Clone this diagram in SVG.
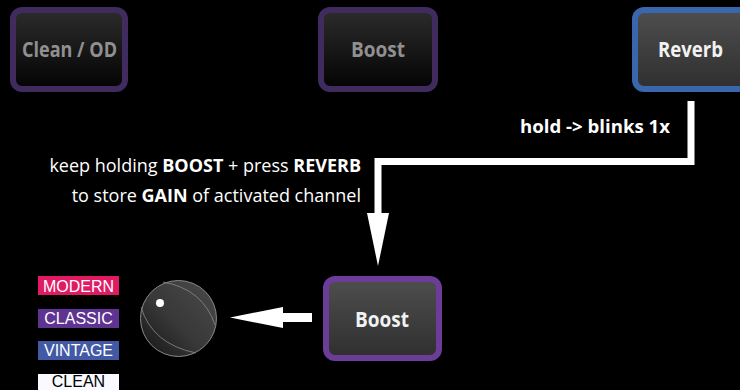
<svg xmlns="http://www.w3.org/2000/svg" width="740" height="390" viewBox="0 0 740 390">
<defs>
<linearGradient id="gDark" x1="0" y1="0" x2="0" y2="1">
<stop offset="0" stop-color="#2c2c2c"/><stop offset="1" stop-color="#030303"/>
</linearGradient>
<linearGradient id="gLit" x1="0" y1="0" x2="0" y2="1">
<stop offset="0" stop-color="#4e4e4e"/><stop offset="1" stop-color="#2f2f2f"/>
</linearGradient>
<linearGradient id="gKnob" x1="1" y1="0" x2="0" y2="1">
<stop offset="0" stop-color="#4a4a4a"/><stop offset="0.55" stop-color="#383838"/><stop offset="1" stop-color="#151515"/>
</linearGradient>
<style>
.btn{stroke-width:6}
.off{fill:url(#gDark);stroke:#3f2b5e}
.on{fill:url(#gLit)}
.bt{font-family:"Open Sans","Noto Sans",sans-serif;font-weight:bold;font-size:22px;text-anchor:middle}
.dim{fill:#909090}
.lit{fill:#f2f2f2}
.note{font-family:"Open Sans","Noto Sans",sans-serif;font-size:18px;fill:#ffffff}
.b{font-weight:bold}
.lbl{font-family:"Liberation Sans",Arial,sans-serif;font-size:16px;text-anchor:middle;fill:#ffffff}
.wire{fill:none;stroke:#ffffff;stroke-width:7;stroke-linejoin:miter}
</style>
</defs>
<rect width="740" height="390" fill="#000"/>

<g id="node-clean-od">
<rect class="btn off" x="13" y="10" width="112" height="79" rx="9"/>
<text class="bt dim" x="69.5" y="57" textLength="95" lengthAdjust="spacingAndGlyphs">Clean / OD</text>
</g>
<g id="node-boost-top">
<rect class="btn off" x="321" y="10" width="114" height="79" rx="9"/>
<text class="bt dim" x="378" y="57" textLength="54" lengthAdjust="spacingAndGlyphs">Boost</text>
</g>
<g id="node-reverb">
<rect class="btn on" x="635" y="10" width="120" height="79" rx="9" stroke="#3a66ad"/>
<text class="bt lit" x="690.5" y="57" textLength="65" lengthAdjust="spacingAndGlyphs">Reverb</text>
</g>
<g id="node-boost">
<rect class="btn on" x="326" y="279" width="113" height="79" rx="9" stroke="#6b3d99"/>
<text class="bt lit" x="382" y="327" textLength="54" lengthAdjust="spacingAndGlyphs">Boost</text>
</g>
<g id="node-knob">
<circle cx="178.5" cy="318.5" r="38" fill="url(#gKnob)" stroke="#8a8a8a" stroke-width="1"/>
<path d="M163,282 Q203,289 215,325" fill="none" stroke="#8a8a8a" stroke-width="0.8"/>
<path d="M141,307 Q152,344 196,353" fill="none" stroke="#8a8a8a" stroke-width="0.8"/>
<circle cx="160" cy="303" r="4" fill="#ffffff"/>
</g>
<g id="node-labels">
<rect x="38" y="276" width="81" height="19" fill="#e11b63"/>
<text class="lbl" x="78.5" y="292">MODERN</text>
<rect x="38" y="309" width="81" height="19" fill="#5e3391"/>
<text class="lbl" x="78.5" y="324">CLASSIC</text>
<rect x="38" y="341" width="81" height="19" fill="#4259a6"/>
<text class="lbl" x="78.5" y="356">VINTAGE</text>
<rect x="38" y="374" width="81" height="19" fill="#f8faff"/>
<text class="lbl" x="78.5" y="387" style="fill:#000">CLEAN</text>
</g>
<g id="texts">
<text class="note b" x="595" y="133" text-anchor="middle" textLength="150" lengthAdjust="spacingAndGlyphs">hold -&gt; blinks 1x</text>
<text class="note" x="361" y="172" text-anchor="end">keep holding <tspan class="b">BOOST</tspan> + press <tspan class="b">REVERB</tspan></text>
<text class="note" x="361" y="202" text-anchor="end">to store <tspan class="b">GAIN</tspan> of activated channel</text>
</g>
<g id="connectors">
<path class="wire" d="M691,101 V161.5 H378 V214"/>
<polygon points="367,213 389,213 378,266" fill="#ffffff"/>
<rect x="282" y="313" width="30" height="9" fill="#ffffff"/>
<polygon points="283,307 283,328 230,317.5" fill="#ffffff"/>
</g>
</svg>
